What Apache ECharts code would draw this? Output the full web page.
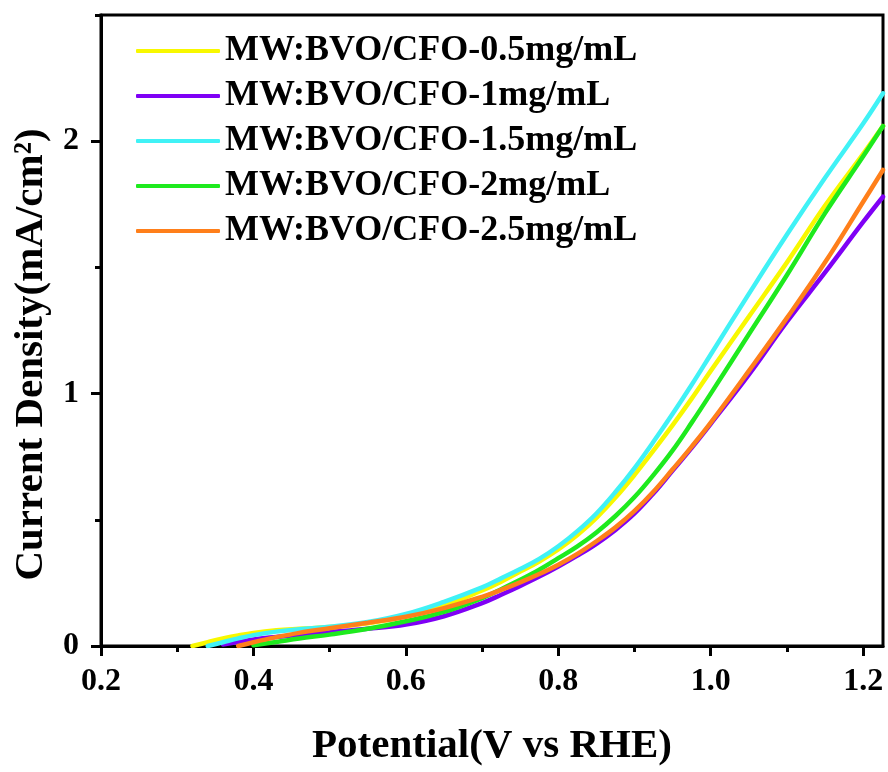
<!DOCTYPE html>
<html><head><meta charset="utf-8">
<script src="https://cdn.jsdelivr.net/npm/echarts@6/dist/echarts.min.js"></script>
<style>html,body{margin:0;padding:0;background:#fff}#c{width:888px;height:772px}</style>
</head><body><div id="c"></div>
<script>
// Potential (V vs RHE)
const potential = [0.32,0.34,0.36,0.38,0.40,0.43,0.46,0.50,0.55,0.60,0.65,0.70,0.725,0.75,0.775,0.80,0.825,0.85,0.875,0.90,0.925,0.95,0.975,1.00,1.05,1.10,1.15,1.20,1.226];
// Current density (mA/cm2)
const cfo05 = [0,0.015,0.03,0.042,0.052,0.062,0.068,0.075,0.09,0.118,0.16,0.22,0.255,0.295,0.335,0.383,0.44,0.508,0.588,0.678,0.775,0.875,0.98,1.09,1.305,1.52,1.745,1.95,2.06];
const cfo10 = [null,null,0.006,0.016,0.026,0.036,0.045,0.055,0.068,0.085,0.118,0.17,0.203,0.238,0.275,0.315,0.358,0.405,0.46,0.525,0.605,0.695,0.785,0.88,1.075,1.285,1.48,1.68,1.78];
const cfo15 = [null,0,0.015,0.03,0.043,0.057,0.066,0.076,0.095,0.127,0.175,0.232,0.268,0.305,0.345,0.395,0.455,0.525,0.61,0.705,0.81,0.92,1.035,1.155,1.395,1.63,1.855,2.07,2.19];
const cfo20 = [null,null,null,null,0.003,0.016,0.03,0.045,0.068,0.098,0.135,0.19,0.225,0.262,0.302,0.348,0.395,0.45,0.515,0.59,0.678,0.775,0.885,1.0,1.235,1.47,1.715,1.94,2.06];
const cfo25 = [null,null,null,0,0.015,0.035,0.052,0.07,0.092,0.116,0.15,0.195,0.222,0.252,0.285,0.322,0.365,0.415,0.47,0.535,0.612,0.70,0.79,0.885,1.09,1.30,1.52,1.76,1.886];

const seriesNames = ['MW:BVO/CFO-0.5mg/mL','MW:BVO/CFO-1mg/mL','MW:BVO/CFO-1.5mg/mL','MW:BVO/CFO-2mg/mL','MW:BVO/CFO-2.5mg/mL'];
const seriesValues = [cfo05, cfo10, cfo15, cfo20, cfo25];
const seriesColors = ['#F8F800','#7F00F5','#40F2F6','#1EEA1E','#FF7F1A'];

const xMajorTicks = [0.2,0.4,0.6,0.8,1.0,1.2];
const xMinorTicks = [0.3,0.5,0.7,0.9,1.1];
const yMajorTicks = [0,1,2];
const yMinorTicks = [0.5,1.5,2.5];

const FONT = 'Liberation Serif';
const chart = echarts.init(document.getElementById('c'), null, {renderer:'canvas'});

const xBase = {type:'value', min:0.2, max:1.226, position:'bottom', splitLine:{show:false}};
const yBase = {type:'value', min:0, max:2.5, position:'left', splitLine:{show:false}};

chart.setOption({
  backgroundColor:'#fff',
  animation:false,
  grid:{left:101, top:15, right:5, bottom:124, show:true, borderColor:'#000', borderWidth:3, containLabel:false},
  legend:{
    orient:'vertical', left:131, top:28, itemWidth:84, itemHeight:4, itemGap:9, icon:'roundRect',
    textStyle:{fontFamily:FONT, fontWeight:'bold', fontSize:36, color:'#000', lineHeight:36},
    data:seriesNames
  },
  xAxis:[
    Object.assign({}, xBase, {
      name:'Potential(V vs RHE)', nameLocation:'middle', nameGap:80,
      nameTextStyle:{fontFamily:FONT, fontWeight:'bold', fontSize:41, color:'#000'},
      axisLine:{show:true, onZero:false, lineStyle:{color:'#000', width:3}},
      axisTick:{show:true, inside:false, length:10, customValues:xMajorTicks, lineStyle:{color:'#000', width:3}},
      axisLabel:{show:true, customValues:xMajorTicks, margin:20, formatter:v=>v.toFixed(1),
        fontFamily:FONT, fontWeight:'bold', fontSize:32, color:'#000'}
    }),
    Object.assign({}, xBase, {
      axisLine:{show:false, onZero:false},
      axisTick:{show:true, inside:false, length:6, customValues:xMinorTicks, lineStyle:{color:'#000', width:3}},
      axisLabel:{show:false}
    })
  ],
  yAxis:[
    Object.assign({}, yBase, {
      name:'Current Density(mA/cm²)', nameLocation:'middle', nameGap:42,
      nameTextStyle:{fontFamily:FONT, fontWeight:'bold', fontSize:41, color:'#000', padding:[0,48,0,0]},
      axisLine:{show:true, onZero:false, lineStyle:{color:'#000', width:3}},
      axisTick:{show:true, inside:false, length:10, customValues:yMajorTicks, lineStyle:{color:'#000', width:3}},
      axisLabel:{show:true, customValues:yMajorTicks, margin:22, formatter:v=>String(v),
        fontFamily:FONT, fontWeight:'bold', fontSize:32, color:'#000'}
    }),
    Object.assign({}, yBase, {
      axisLine:{show:false, onZero:false},
      axisTick:{show:true, inside:false, length:6, customValues:yMinorTicks, lineStyle:{color:'#000', width:3}},
      axisLabel:{show:false}
    })
  ],
  series: seriesNames.map((name,i)=>({
    name, type:'line', xAxisIndex:0, yAxisIndex:0,
    data: potential.map((x,j)=>[x, seriesValues[i][j]]).filter(p=>p[1]!==null),
    smooth:0.4, showSymbol:false, symbol:'none', clip:true,
    color:seriesColors[i],
    lineStyle:{color:seriesColors[i], width:4.5, cap:'round'},
    itemStyle:{color:seriesColors[i]}
  }))
});
</script></body></html>
